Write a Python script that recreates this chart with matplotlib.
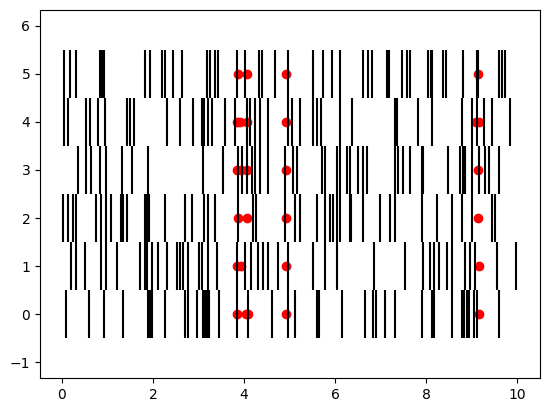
import matplotlib
matplotlib.use("Agg")
import matplotlib.pyplot as plt

# event positions per row (row index = line offset)
row0 = [0.10, 0.60, 0.93, 1.35, 1.90, 1.93, 1.98, 2.26, 2.70, 2.76, 2.96, 3.10, 3.14, 3.19,
        3.23, 3.46, 3.85, 4.08, 4.61, 4.97, 5.11, 5.60, 5.65, 6.15, 6.66, 6.84, 6.89, 7.10,
        7.32, 7.91, 8.13, 8.18, 8.56, 8.78, 8.84, 8.89, 8.95, 9.04, 9.11, 9.59]
row1 = [0.21, 0.32, 0.51, 0.87, 0.98, 1.20, 1.71, 1.82, 1.88, 1.97, 2.12, 2.30, 2.52, 2.59,
        2.67, 2.76, 3.01, 3.07, 3.22, 3.40, 3.84, 4.02, 4.16, 4.31, 4.42, 4.53, 4.75, 4.97,
        5.52, 5.78, 6.04, 6.86, 7.54, 7.92, 8.09, 8.18, 8.29, 8.45, 8.56, 8.86, 8.97, 9.08,
        9.55, 9.98]
row2 = [0.03, 0.14, 0.25, 0.32, 0.76, 0.87, 0.98, 1.09, 1.30, 1.35, 1.42, 1.82, 1.87, 1.91,
        2.26, 2.70, 2.85, 3.13, 3.22, 3.36, 3.87, 4.20, 4.27, 4.90, 5.12, 5.23, 5.60, 5.78,
        5.89, 5.96, 6.04, 6.11, 6.33, 6.36, 6.62, 6.99, 7.21, 7.32, 7.91, 8.24, 8.56, 8.78,
        9.00, 9.44, 9.52]
row3 = [0.36, 0.54, 0.65, 0.84, 0.98, 1.31, 1.53, 1.90, 3.11, 3.54, 3.87, 3.95, 4.06, 4.17,
        4.24, 4.35, 4.53, 4.90, 5.08, 5.16, 5.71, 5.78, 6.04, 6.11, 6.26, 6.33, 6.51, 6.62,
        6.70, 7.32, 7.39, 7.50, 7.65, 7.91, 7.94, 8.49, 8.75, 8.80, 8.86, 9.00, 9.15, 9.30,
        9.37, 9.59]
row4 = [0.05, 0.13, 0.54, 0.62, 0.80, 0.95, 1.44, 1.49, 1.58, 2.30, 2.59, 2.89, 3.07, 3.13,
        3.22, 3.29, 3.58, 3.80, 4.06, 4.13, 4.24, 4.35, 4.53, 4.97, 5.05, 5.23, 5.52, 5.60,
        5.70, 6.11, 6.37, 7.32, 7.36, 7.83, 8.12, 8.78, 9.00, 9.11, 9.26, 9.44, 9.85]
row5 = [0.05, 0.18, 0.32, 0.84, 0.89, 0.93, 1.82, 1.93, 2.19, 2.26, 2.45, 2.63, 3.18, 3.25,
        3.36, 3.42, 3.84, 4.02, 4.33, 4.39, 4.68, 4.97, 5.52, 5.74, 5.93, 6.11, 6.62, 6.73,
        6.80, 7.14, 7.18, 7.47, 7.58, 7.65, 8.05, 8.10, 8.12, 8.38, 8.44, 8.82, 9.11, 9.13,
        9.59, 9.66, 9.74]
rows = [row0, row1, row2, row3, row4, row5]

# highlighted points (x, row)
dot_x = [3.85, 4.04, 4.08, 4.92, 9.16,
         3.85, 3.93, 4.92, 9.16,
         3.87, 4.06, 4.92, 9.14,
         3.85, 3.93, 4.06, 4.92, 9.14,
         3.85, 3.91, 4.06, 4.92, 9.10, 9.16,
         3.87, 4.06, 4.92, 9.14]
dot_y = [0, 0, 0, 0, 0,
         1, 1, 1, 1,
         2, 2, 2, 2,
         3, 3, 3, 3, 3,
         4, 4, 4, 4, 4, 4,
         5, 5, 5, 5]

fig = plt.figure(figsize=(5.46, 4.13), dpi=100)
ax = fig.add_axes([40 / 546, (413 - 378) / 413, 500 / 546, 368 / 413])

ax.eventplot(rows, colors='black', lineoffsets=range(len(rows)), linelengths=1)
ax.scatter(dot_x, dot_y, color='red')

ax.set_xlim(-0.48, 10.5)
ax.set_ylim(-1.33, 6.33)

fig.savefig('out.png', dpi=100)
